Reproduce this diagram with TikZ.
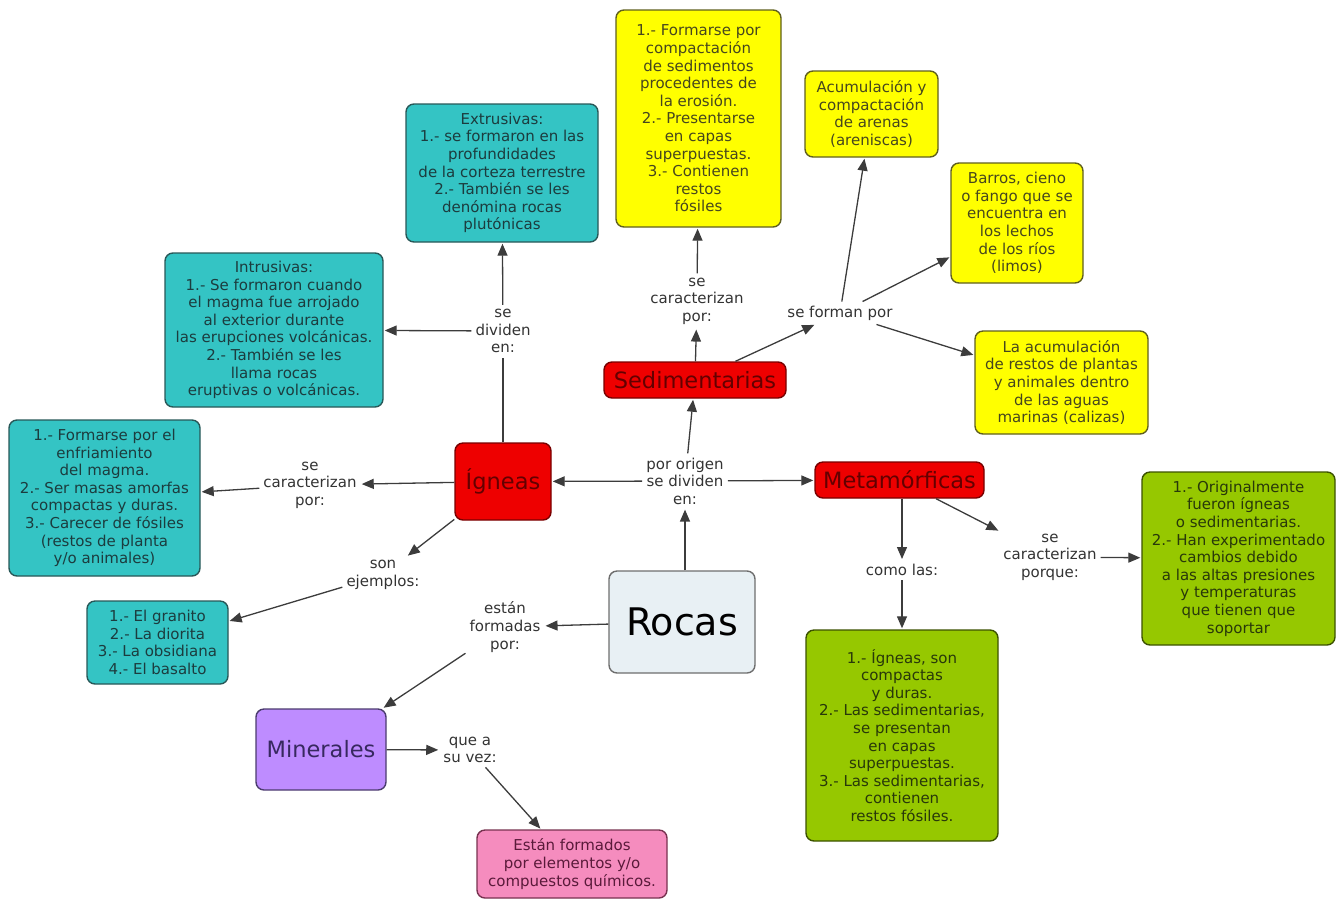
\documentclass[tikz,border=0pt]{standalone}
\usepackage{fontspec}
\setmainfont{DejaVu Sans}
\usepackage{xcolor}
\usetikzlibrary{arrows.meta,positioning}
\definecolor{turq}{RGB}{52,196,196}
\definecolor{turqline}{RGB}{40,88,88}
\definecolor{turqtext}{RGB}{28,60,62}
\definecolor{amar}{RGB}{255,255,0}
\definecolor{amarline}{RGB}{96,96,30}
\definecolor{amartext}{RGB}{70,70,30}
\definecolor{rojo}{RGB}{238,0,0}
\definecolor{rojoline}{RGB}{120,0,0}
\definecolor{rojotext}{RGB}{100,0,0}
\definecolor{verde}{RGB}{150,200,0}
\definecolor{verdeline}{RGB}{60,82,0}
\definecolor{verdetext}{RGB}{40,56,10}
\definecolor{lila}{RGB}{190,140,255}
\definecolor{lilaline}{RGB}{75,60,110}
\definecolor{lilatext}{RGB}{55,40,95}
\definecolor{rosa}{RGB}{245,140,190}
\definecolor{rosaline}{RGB}{120,50,80}
\definecolor{rosatext}{RGB}{90,26,58}
\definecolor{roca}{RGB}{232,240,244}
\definecolor{rocaline}{RGB}{110,110,110}
\definecolor{linea}{RGB}{60,60,60}
\newcommand{\chico}{\fontsize{15}{17.6}\selectfont}
\newcommand{\medio}{\fontsize{22.5}{26}\selectfont}

\begin{document}
\begin{tikzpicture}[
    x=1pt, y=-1pt,
    >={Triangle[length=12pt,width=10pt]},
    caja/.style={rounded corners=8pt, line width=1.4pt, align=center, inner sep=3pt, font=\chico},
    ignea/.style={caja, draw=turqline, fill=turq, text=turqtext},
    sedim/.style={caja, draw=amarline, fill=amar, text=amartext},
    meta/.style={caja, draw=verdeline, fill=verde, text=verdetext},
    tipo/.style={caja, draw=rojoline, fill=rojo, text=rojotext, font=\medio},
    rocabox/.style={caja, draw=rocaline, fill=roca, text=black, font=\fontsize{38}{44}\selectfont},
    mineral/.style={caja, draw=lilaline, fill=lila, text=lilatext, font=\medio},
    compuesto/.style={caja, draw=rosaline, fill=rosa, text=rosatext},
    nexo/.style={align=center, inner sep=4pt, font=\chico, text=black!80},
    lnk/.style={->, line width=1.3pt, draw=linea, shorten >=1pt}
]
\useasboundingbox (0,0) rectangle (1338,898);

% conceptos
\node[rocabox, minimum width=146pt, minimum height=102pt] (rocas) at (682,622) {Rocas};
\node[tipo, minimum width=96pt, minimum height=77pt] (igneas) at (503,481.5) {Ígneas};
\node[tipo, minimum width=182pt, minimum height=36pt] (sedimen) at (695,380) {Sedimentarias};
\node[tipo, minimum width=169pt, minimum height=36pt] (metam) at (899.5,480) {Metamórficas};
\node[mineral, minimum width=130pt, minimum height=81pt] (minerales) at (321,749.5) {Minerales};
\node[compuesto, minimum width=190pt, minimum height=68pt] (quimicos) at (572,864) {Están formados\\por elementos y/o\\compuestos químicos.};

\node[ignea, minimum width=192pt, minimum height=138pt] (extru) at (502,173) {Extrusivas:\\1.- se formaron en las\\profundidades\\de la corteza terrestre\\2.- También se les\\denómina rocas\\plutónicas};
\node[ignea, minimum width=218pt, minimum height=154pt] (intru) at (274,330) {Intrusivas:\\1.- Se formaron cuando\\el magma fue arrojado\\al exterior durante\\las erupciones volcánicas.\\2.- También se les\\llama rocas\\eruptivas o volcánicas.};
\node[ignea, minimum width=191pt, minimum height=156pt] (rasgosI) at (104.5,498) {1.- Formarse por el\\enfriamiento\\del magma.\\2.- Ser masas amorfas\\compactas y duras.\\3.- Carecer de fósiles\\(restos de planta\\y/o animales)};
\node[ignea, minimum width=141pt, minimum height=83pt] (ejemplos) at (157.5,642.5) {1.- El granito\\2.- La diorita\\3.- La obsidiana\\4.- El basalto};

\node[sedim, minimum width=165pt, minimum height=217pt] (rasgosS) at (698.5,118.5) {1.- Formarse por\\compactación\\de sedimentos\\procedentes de\\la erosión.\\2.- Presentarse\\en capas\\superpuestas.\\3.- Contienen\\restos\\fósiles};
\node[sedim, minimum width=133pt, minimum height=86pt] (arenas) at (871.5,114) {Acumulación y\\compactación\\de arenas\\(areniscas)};
\node[sedim, minimum width=132pt, minimum height=120pt] (limos) at (1017,223) {Barros, cieno\\o fango que se\\encuentra en\\los lechos\\de los ríos\\(limos)};
\node[sedim, minimum width=173pt, minimum height=103pt] (calizas) at (1061.5,382.5) {La acumulación\\de restos de plantas\\y animales dentro\\de las aguas\\marinas (calizas)};

\node[meta, minimum width=192pt, minimum height=211pt] (comoLas) at (902,735.5) {1.- Ígneas, son\\compactas\\y duras.\\2.- Las sedimentarias,\\se presentan\\en capas\\superpuestas.\\3.- Las sedimentarias,\\contienen\\restos fósiles.};
\node[meta, minimum width=193pt, minimum height=173pt] (rasgosM) at (1238.5,558.5) {1.- Originalmente\\fueron ígneas\\o sedimentarias.\\2.- Han experimentado\\cambios debido\\a las altas presiones\\y temperaturas\\que tienen que\\soportar};

% frases de enlace
\node[nexo] (lOrigen) at (685,481) {por origen\\se dividen\\en:};
\node[nexo] (lFormadas) at (505,627) {están\\formadas\\por:};
\node[nexo] (lSuVez) at (470,750) {que a\\su vez:};
\node[nexo] (lDividen) at (503,331) {se\\dividen\\en:};
\node[nexo] (lCaractI) at (310,485) {se\\caracterizan\\por:};
\node[nexo] (lEjemplos) at (383,575) {son\\ejemplos:};
\node[nexo] (lCaractS) at (697,301) {se\\caracterizan\\por:};
\node[nexo] (lForman) at (840,313) {se forman por};
\node[nexo] (lComo) at (902,570) {como las:};
\node[nexo] (lPorque) at (1050,557) {se\\caracterizan\\porque:};

% conexiones
\draw[lnk] (rocas.north -| lOrigen) -- (lOrigen);
\draw[lnk] (lOrigen) -- (igneas);
\draw[lnk] (lOrigen) -- (sedimen);
\draw[lnk] (lOrigen) -- (metam);
\draw[lnk] (rocas) -- (lFormadas);
\draw[lnk] (lFormadas) -- (minerales);
\draw[lnk] (minerales) -- (lSuVez);
\draw[lnk] (lSuVez) -- (quimicos);

\draw[lnk, -] (igneas) -- (lDividen);
\draw[lnk] (lDividen) -- (extru);
\draw[lnk] (lDividen) -- (intru);
\draw[lnk] (igneas) -- (lCaractI);
\draw[lnk] (lCaractI) -- (rasgosI);
\draw[lnk] (igneas) -- (lEjemplos);
\draw[lnk] (lEjemplos) -- (ejemplos);

\draw[lnk] (sedimen) -- (lCaractS);
\draw[lnk] (lCaractS) -- (rasgosS);
\draw[lnk] (sedimen) -- (lForman);
\draw[lnk] (lForman) -- (arenas);
\draw[lnk] (lForman) -- (limos);
\draw[lnk] (lForman) -- (calizas);

\draw[lnk] (metam.south -| lComo) -- (lComo);
\draw[lnk] (lComo) -- (comoLas);
\draw[lnk] (metam) -- (lPorque);
\draw[lnk] (lPorque) -- (rasgosM);
\end{tikzpicture}
\end{document}
